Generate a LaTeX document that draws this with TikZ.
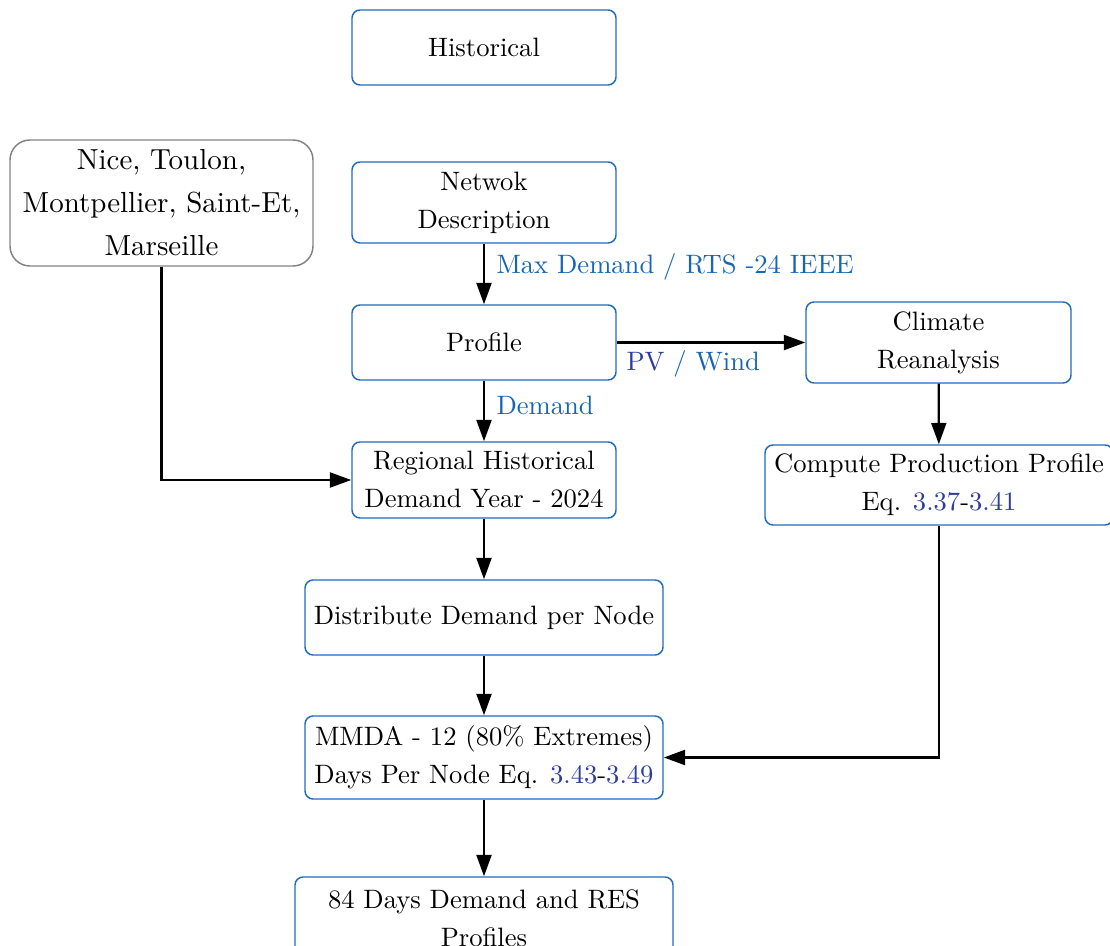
\documentclass[tikz,border=0pt]{standalone}
\usetikzlibrary{arrows.meta}
\definecolor{boxblue}{RGB}{30,106,190}
\definecolor{labelblue}{RGB}{22,102,182}
\definecolor{linkblue}{RGB}{46,62,154}
\definecolor{boxgray}{RGB}{130,130,130}
\begin{document}
\begin{tikzpicture}[x=0.3759pt, y=-0.3759pt,
  flowbox/.style={draw=boxblue, line width=0.55pt, rounded corners=3pt, align=center,
    inner sep=0pt, font=\fontsize{10}{14.3}\selectfont},
  citybox/.style={draw=boxgray, line width=0.55pt, rounded corners=7.5pt, align=center,
    inner sep=0pt, font=\fontsize{10.9}{16.2}\selectfont},
  flow/.style={line width=0.85pt, -{Triangle[length=8pt,width=5.6pt]}},
  lbl/.style={anchor=west, inner sep=0pt, text=labelblue, font=\fontsize{10}{12}\selectfont}]
\useasboundingbox (0,0) rectangle (1110,946);

% process boxes
\node[flowbox, minimum width=264*0.3759pt, minimum height=75*0.3759pt] (hist) at (484,47.5) {Historical};
\node[citybox, minimum width=303*0.3759pt, minimum height=126*0.3759pt] (city) at (161.5,203)
  {Nice, Toulon,\\Montpellier, Saint-Et,\\Marseille};
\node[flowbox, minimum width=264*0.3759pt, minimum height=81*0.3759pt] (net) at (484,202.5) {Netwok\\Description};
\node[flowbox, minimum width=264*0.3759pt, minimum height=75*0.3759pt] (prof) at (484,342.5) {Profile};
\node[flowbox, minimum width=265*0.3759pt, minimum height=81*0.3759pt] (clim) at (938.5,342.5) {Climate\\Reanalysis};
\node[flowbox, minimum width=264*0.3759pt, minimum height=76*0.3759pt] (reg) at (484,480) {Regional Historical\\Demand Year - 2024};
\node[flowbox, minimum width=348*0.3759pt, minimum height=80*0.3759pt] (comp) at (939,485)
  {Compute Production Profile\\Eq. \textcolor{linkblue}{3.37}-\textcolor{linkblue}{3.41}};
\node[flowbox, minimum width=358*0.3759pt, minimum height=75*0.3759pt] (dist) at (484,617.5) {Distribute Demand per Node};
\node[flowbox, minimum width=358*0.3759pt, minimum height=83*0.3759pt] (mmda) at (484,757.5)
  {MMDA - 12 (80\% Extremes)\\Days Per Node Eq. \textcolor{linkblue}{3.43}-\textcolor{linkblue}{3.49}};
\node[flowbox, minimum width=378*0.3759pt, minimum height=83*0.3759pt] (res) at (484,918.5)
  {84 Days Demand and RES\\Profiles};

% connectors
\draw[flow] (net) -- (prof);
\draw[flow] (prof) -- (clim);
\draw[flow] (prof) -- (reg);
\draw[flow] (city.south) |- (reg.west);
\draw[flow] (reg) -- (dist);
\draw[flow] (dist) -- (mmda);
\draw[flow] (mmda) -- (res);
\draw[flow] (clim) -- (comp);
\draw[flow] (comp.south) |- (mmda.east);

% connector labels
\node[lbl] (lmax) at (496,267) {Max Demand / RTS -24 IEEE};
\node[lbl] (lpv) at (626,364) {\textcolor{linkblue}{PV} / Wind};
\node[lbl] (ldem) at (496,405) {Demand};
\end{tikzpicture}
\end{document}
